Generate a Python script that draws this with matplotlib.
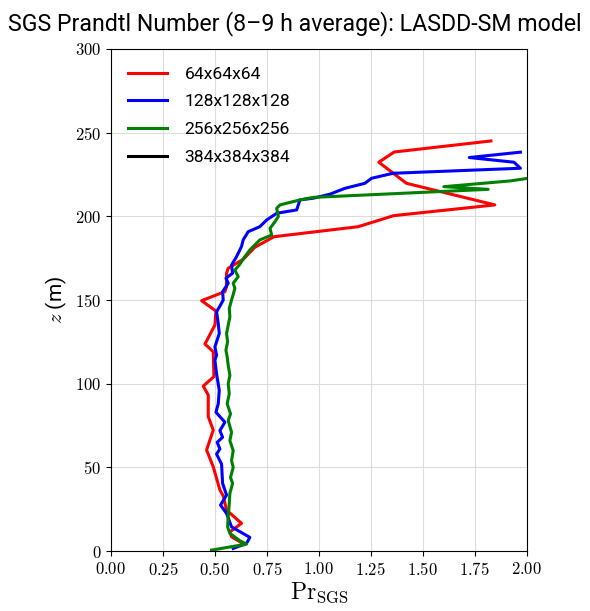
import matplotlib
matplotlib.use("Agg")
from matplotlib import pyplot as plt

plt.rcParams['mathtext.fontset'] = 'cm'
plt.rcParams['font.family'] = ['Roboto', 'DejaVu Sans']

# 64x64x64
red_pr = [0.64, 0.62, 0.58, 0.572, 0.628, 0.556, 0.54, 0.524, 0.492, 0.46, 0.492, 0.468, 0.468,
          0.444, 0.495, 0.492, 0.452, 0.50, 0.505, 0.436, 0.548, 0.556, 0.556, 0.564, 0.636,
          0.692, 0.784, 1.189, 1.36, 1.846, 1.421, 1.288, 1.362, 1.827]
red_z = [4.0, 5.6, 8.6, 11.5, 16.6, 24.5, 33.0, 36.5, 50.4, 60.4, 72.3, 80.3, 93.2,
         98.6, 104.2, 119.1, 123.7, 135.0, 143.4, 149.6, 155.0, 158.0, 166.0, 169.0, 174.3,
         181.5, 187.8, 193.8, 200.4, 206.8, 219.7, 232.3, 238.4, 245.0]

# 128x128x128
blue_pr = [0.588, 0.652, 0.668, 0.580, 0.556, 0.527, 0.556, 0.537, 0.532, 0.508, 0.524, 0.511,
           0.537, 0.524, 0.548, 0.505, 0.516, 0.521, 0.508, 0.500, 0.508, 0.500, 0.521, 0.516,
           0.508, 0.527, 0.540, 0.537, 0.564, 0.553, 0.585, 0.580, 0.604, 0.620, 0.628, 0.636,
           0.660, 0.716, 0.749, 0.797, 0.893, 0.909, 0.973, 1.053, 1.125, 1.221, 1.253, 1.357,
           1.969, 1.938, 1.723, 1.969]
blue_z = [1.6, 4.6, 8.2, 14.5, 22.5, 27.5, 33.5, 40.5, 52.0, 58.0, 61.0, 65.0,
          68.0, 72.0, 77.0, 83.0, 88.0, 96.0, 106.0, 114.0, 117.0, 122.0, 130.0, 136.0,
          143.0, 147.0, 150.0, 155.0, 160.0, 163.0, 166.0, 170.9, 175.9, 179.9, 182.0, 185.9,
          190.8, 193.8, 197.8, 201.8, 203.8, 209.8, 210.8, 213.2, 216.7, 219.7, 222.7, 225.7,
          228.7, 232.3, 235.1, 238.3]

# 256x256x256
green_pr = [0.484, 0.652, 0.620, 0.572, 0.561, 0.564, 0.569, 0.572, 0.585, 0.575, 0.588, 0.580,
            0.588, 0.572, 0.580, 0.564, 0.575, 0.559, 0.569, 0.564, 0.572, 0.564, 0.559, 0.553,
            0.561, 0.556, 0.564, 0.572, 0.569, 0.580, 0.585, 0.596, 0.588, 0.612, 0.596, 0.617,
            0.644, 0.668, 0.716, 0.773, 0.765, 0.789, 0.805, 0.797, 0.813, 0.909, 0.973, 1.814,
            1.601, 1.918, 2.05]
green_z = [0.6, 4.2, 6.2, 10.6, 14.5, 20.5, 28.5, 34.5, 40.5, 44.0, 50.0, 54.0,
           60.0, 66.0, 71.0, 78.0, 82.0, 88.0, 94.0, 100.0, 105.0, 111.0, 116.0, 120.0,
           125.0, 130.0, 135.0, 140.0, 145.0, 150.0, 152.0, 157.0, 160.0, 163.9, 167.9, 170.9,
           175.9, 179.9, 185.9, 188.8, 192.8, 196.8, 199.8, 204.8, 206.8, 209.8, 211.3, 216.1,
           217.7, 221.1, 223.5]

# 384x384x384 (legend only)
black_pr = []
black_z = []

xticks = [0.00, 0.25, 0.50, 0.75, 1.00, 1.25, 1.50, 1.75, 2.00]
yticks = [0, 50, 100, 150, 200, 250, 300]

f = plt.figure(figsize=(5.9, 6.11), dpi=100)
ax = f.add_axes([0.188, 0.098, 0.705, 0.822])
ax.plot(red_pr, red_z, color='red', linewidth=2.2, label='64x64x64')
ax.plot(blue_pr, blue_z, color='blue', linewidth=2.2, label='128x128x128')
ax.plot(green_pr, green_z, color='green', linewidth=2.2, label='256x256x256')
ax.plot(black_pr, black_z, color='black', linewidth=2.2, label='384x384x384')

ax.set_xlim(0, 2.0)
ax.set_ylim(0, 300)
ax.set_xticks(xticks)
ax.set_xticklabels(['$%.2f$' % v for v in xticks], fontsize=12)
ax.set_yticks(yticks)
ax.set_yticklabels(['$%d$' % v for v in yticks], fontsize=12)
ax.grid(True, color='#dcdcdc', linewidth=0.8)
ax.set_axisbelow(True)

ax.set_xlabel(r'$\mathrm{Pr}_\mathrm{SGS}$', fontsize=17, labelpad=2)
ax.set_ylabel(r'$z$ (m)', fontsize=15)
f.suptitle('SGS Prandtl Number (8–9 h average): LASDD-SM model', fontsize=16.7, y=0.982)
ax.legend(loc='upper left', frameon=False, fontsize=12.6, handlelength=2.2,
          labelspacing=0.72, borderaxespad=0.6, handletextpad=1.0)

f.savefig("out.png", dpi=100)
